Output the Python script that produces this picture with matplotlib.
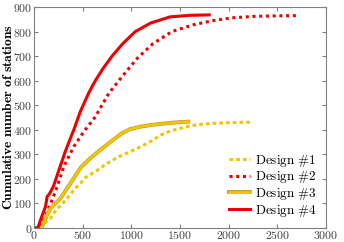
import matplotlib
matplotlib.use("Agg")
from matplotlib import pyplot as plt
from matplotlib.ticker import FuncFormatter
import matplotlib.patheffects as pe

plt.rcParams['mathtext.fontset'] = 'cm'
plt.rcParams['font.family'] = 'serif'

d1_x = [0, 80, 120, 169, 237, 272, 350, 408, 477, 528, 650, 750, 870, 990, 1100, 1208, 1300, 1400, 1503, 1600, 1708, 1830, 1944, 2080, 2220]
d1_y = [0, 0, 25, 39, 80, 90, 125, 155, 182, 205, 235, 263, 290, 311, 332, 355, 378, 395, 406, 415, 422, 426, 428, 430, 431]

d2_x = [0, 60, 100, 150, 220, 306, 408, 511, 630, 768, 904, 1058, 1220, 1417, 1630, 1830, 2036, 2270, 2500, 2720]
d2_y = [0, 0, 33, 80, 148, 250, 331, 392, 453, 548, 616, 690, 750, 800, 827, 844, 856, 862, 864, 865]

d3_x = [0, 70, 84, 130, 169, 272, 374, 477, 580, 682, 800, 900, 990, 1100, 1194, 1300, 1400, 1500, 1585]
d3_y = [0, 0, 5, 50, 80, 121, 182, 245, 285, 318, 355, 385, 403, 413, 419, 424, 428, 431, 433]

d4_x = [0, 40, 67, 118, 135, 160, 200, 260, 320, 374, 408, 477, 562, 630, 710, 802, 910, 1041, 1200, 1400, 1600, 1800]
d4_y = [0, 0, 33, 87, 128, 140, 170, 240, 310, 365, 399, 475, 550, 600, 650, 700, 750, 800, 835, 860, 866, 868]

labels = [r'$\mathrm{Design\ \#1}$', r'$\mathrm{Design\ \#2}$',
          r'$\mathrm{Design\ \#3}$', r'$\mathrm{Design\ \#4}$']

red = '#ee0000'
gold = '#f2c500'

fig = plt.figure(figsize=(3.44, 2.42), dpi=100)
ax = fig.add_axes([34/344, 1 - 228/242, 292/344, 221/242])

ax.plot(d1_x, d1_y, color=gold, lw=2.2, ls=(0, (1.2, 1.0)), label=labels[0])
ax.plot(d2_x, d2_y, color=red, lw=2.2, ls=(0, (1.0, 1.2)), label=labels[1])
ax.plot(d3_x, d3_y, color=gold, lw=2.0, label=labels[2],
        path_effects=[pe.Stroke(linewidth=2.8, foreground='#b89a30'), pe.Normal()])
ax.plot(d4_x, d4_y, color=red, lw=2.2, label=labels[3])

ax.set_xlim(0, 3000)
ax.set_ylim(0, 900)
ax.set_xticks(range(0, 3001, 500))
ax.set_yticks(range(0, 901, 100))
fmt = FuncFormatter(lambda v, p: r'$%d$' % v)
ax.xaxis.set_major_formatter(fmt)
ax.yaxis.set_major_formatter(fmt)
ax.tick_params(direction='in', top=True, right=True, labelsize=8.5, length=3,
               color='#808080', labelcolor='#404040', pad=1)
ax.tick_params(axis='x', pad=0.5)
for s in ax.spines.values():
    s.set_color('#808080')

ax.set_ylabel(r'$\mathbf{Cumulative\ number\ of\ stations}$', fontsize=9.8, labelpad=0)
ax.yaxis.set_label_coords(-0.065, 0.5)

ax.legend(loc='lower right', frameon=False, fontsize=9.5, handlelength=1.6,
          handletextpad=0.4, labelspacing=0.05, borderaxespad=0.3)

fig.savefig('out.png', dpi=100)
